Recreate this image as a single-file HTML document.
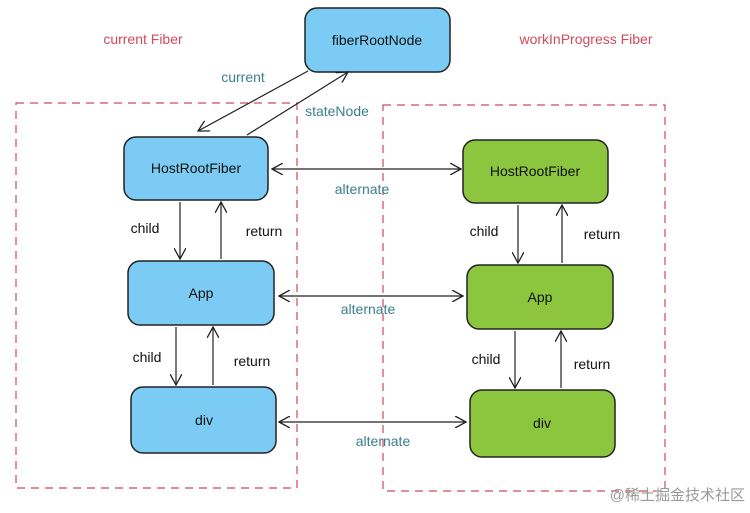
<!DOCTYPE html>
<html><head><meta charset="utf-8"><style>
body{margin:0;background:#fff;width:750px;height:508px;overflow:hidden}
svg text{font-family:"Liberation Sans","Noto Sans CJK SC",sans-serif;font-size:14px}
</style></head><body>
<svg width="750" height="508" viewBox="0 0 750 508">
<defs><marker id="a" viewBox="0 0 12 12" refX="11" refY="6" markerWidth="12" markerHeight="12" orient="auto-start-reverse" markerUnits="userSpaceOnUse"><path d="M0,0 L11,6 L0,12" fill="none" stroke="#222" stroke-width="1.3"/></marker></defs>
<g fill="none" stroke="#d04a5c" stroke-width="1.2" stroke-dasharray="8,6">
<rect x="16" y="103" width="281" height="385"/>
<rect x="383" y="105" width="282" height="386"/>
</g>
<g stroke="#222" stroke-width="1.5">
<rect x="305" y="8" width="145" height="64" rx="12" fill="#7ccbf4"/>
<rect x="124" y="137" width="144" height="63" rx="12" fill="#7ccbf4"/>
<rect x="128" y="261" width="146" height="64" rx="12" fill="#7ccbf4"/>
<rect x="131" y="387" width="145" height="66" rx="12" fill="#7ccbf4"/>
<rect x="463" y="140" width="145" height="63" rx="12" fill="#8cc63f"/>
<rect x="467" y="265" width="146" height="64" rx="12" fill="#8cc63f"/>
<rect x="470" y="390" width="145" height="67" rx="12" fill="#8cc63f"/>
</g>
<g stroke="#222" stroke-width="1.2" fill="none" marker-end="url(#a)">
<line x1="308" y1="71" x2="198" y2="131" />
<line x1="247" y1="135" x2="348" y2="72"/>
<line x1="180" y1="202" x2="180" y2="259"/>
<line x1="221" y1="259" x2="221" y2="202"/>
<line x1="176" y1="327" x2="176" y2="385"/>
<line x1="213" y1="385" x2="213" y2="327"/>
<line x1="518" y1="205" x2="518" y2="263"/>
<line x1="562" y1="263" x2="562" y2="205"/>
<line x1="515" y1="331" x2="515" y2="388"/>
<line x1="561" y1="388" x2="561" y2="331"/>
<line x1="272" y1="169" x2="461" y2="169" marker-start="url(#a)"/>
<line x1="279" y1="296" x2="463" y2="296" marker-start="url(#a)"/>
<line x1="279" y1="422" x2="466" y2="422" marker-start="url(#a)"/>
</g>
<g fill="#111" text-anchor="middle">
<text x="377" y="45">fiberRootNode</text>
<text x="196" y="173">HostRootFiber</text>
<text x="535" y="176">HostRootFiber</text>
<text x="201" y="298">App</text>
<text x="540" y="302">App</text>
<text x="204" y="425">div</text>
<text x="542" y="428">div</text>
<text x="145" y="233">child</text>
<text x="264" y="236">return</text>
<text x="147" y="362">child</text>
<text x="252" y="366">return</text>
<text x="484" y="236">child</text>
<text x="602" y="239">return</text>
<text x="486" y="364">child</text>
<text x="592" y="369">return</text>
</g>
<g fill="#3a7f8c" text-anchor="middle">
<text x="243" y="82">current</text>
<text x="337" y="116">stateNode</text>
<text x="362" y="194">alternate</text>
<text x="368" y="314">alternate</text>
<text x="383" y="446">alternate</text>
</g>
<g fill="#d04a5c" text-anchor="middle">
<text x="143" y="44">current Fiber</text>
<text x="586" y="44">workInProgress Fiber</text>
</g>
<text x="745" y="500" text-anchor="end" fill="#999" style="font-size:15px">@稀土掘金技术社区</text>
</svg>
</body></html>
